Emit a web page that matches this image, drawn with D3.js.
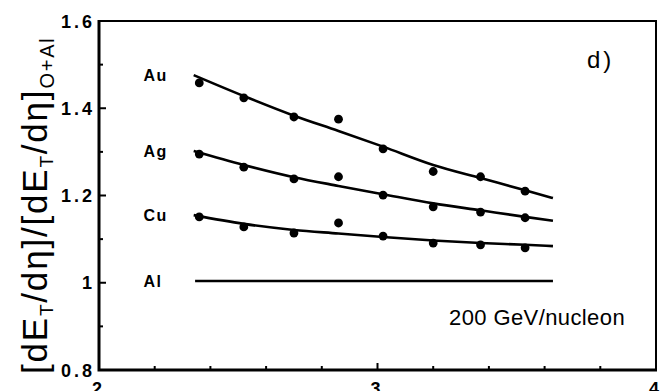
<!DOCTYPE html>
<html>
<head>
<meta charset="utf-8">
<script src="https://cdn.jsdelivr.net/npm/d3@7"></script>
<style>
  html, body { margin: 0; padding: 0; background: #fff; }
  svg { display: block; }
  text { font-family: "Liberation Sans", Arial, sans-serif; fill: #000; }
</style>
</head>
<body>
<svg id="chart" width="661" height="391"></svg>
<script>
// Pseudorapidity bins of the measured points
const eta = [2.36, 2.52, 2.70, 2.86, 3.02, 3.20, 3.37, 3.53];

// Measured ratios relative to O+Al
const auData = [1.458, 1.424, 1.380, 1.375, 1.307, 1.255, 1.243, 1.210];
const agData = [1.295, 1.265, 1.238, 1.243, 1.201, 1.174, 1.162, 1.149];
const cuData = [1.151, 1.128, 1.114, 1.137, 1.107, 1.091, 1.087, 1.080];

// Fitted curves
const fitEta = [2.34, 2.52, 2.70, 2.86, 3.02, 3.20, 3.37, 3.53, 3.63];
const auFit = [1.476, 1.428, 1.383, 1.348, 1.312, 1.270, 1.240, 1.212, 1.194];
const agFit = [1.302, 1.270, 1.242, 1.222, 1.203, 1.182, 1.166, 1.151, 1.142];
const cuFit = [1.155, 1.135, 1.121, 1.113, 1.105, 1.097, 1.091, 1.087, 1.084];
const alEta = [2.345, 3.63];
const alFit = [1.004, 1.004];

const targets = ["Au", "Ag", "Cu", "Al"];
const xTicks = [2, 3, 4];
const yTicks = [0.8, 1, 1.2, 1.4, 1.6];
const xMinorTicks = [2.2, 2.4, 2.6, 2.8, 3.2, 3.4, 3.6, 3.8];
const yMinorTicks = [0.9, 1.1, 1.3, 1.5];

const svg = d3.select("#chart");
const x = d3.scaleLinear().domain([2, 4]).range([99, 656]);
const y = d3.scaleLinear().domain([0.8, 1.6]).range([370, 21]);

// Frame: heavy left/bottom axes, lighter top/right
svg.append("path")
  .attr("d", `M${x(2)},${y(1.6)}H${x(4)}V${y(0.8)}`)
  .attr("fill", "none").attr("stroke", "#000").attr("stroke-width", 2);
svg.append("path")
  .attr("d", `M${x(2)},${y(1.6) - 1}V${y(0.8)}H${x(4) + 1}`)
  .attr("fill", "none").attr("stroke", "#000").attr("stroke-width", 3);

// Inward ticks
const ticks = svg.append("g").attr("stroke", "#000").attr("stroke-width", 2);
ticks.selectAll(".ymaj").data(yTicks.slice(1, -1)).join("line")
  .attr("x1", x(2)).attr("x2", x(2) + 7).attr("y1", d => y(d)).attr("y2", d => y(d));
ticks.selectAll(".ymin").data(yMinorTicks).join("line")
  .attr("x1", x(2)).attr("x2", x(2) + 4).attr("y1", d => y(d)).attr("y2", d => y(d));
ticks.selectAll(".xmaj").data([3]).join("line")
  .attr("x1", d => x(d)).attr("x2", d => x(d)).attr("y1", y(0.8)).attr("y2", y(0.8) - 7);
ticks.selectAll(".xmin").data(xMinorTicks).join("line")
  .attr("x1", d => x(d)).attr("x2", d => x(d)).attr("y1", y(0.8)).attr("y2", y(0.8) - 4);

// Tick labels
svg.append("g").selectAll("text").data(yTicks).join("text")
  .attr("x", x(2) - 4).attr("y", d => y(d) + 6.5)
  .attr("text-anchor", "end")
  .style("font-size", "18px").style("font-weight", "bold").style("letter-spacing", "3px")
  .text(d => d === 1 ? "1" : d3.format(".1f")(d));

svg.append("g").selectAll("text").data(xTicks).join("text")
  .attr("x", d => x(d) - 2).attr("y", 395)
  .attr("text-anchor", "middle")
  .style("font-size", "18px").style("font-weight", "bold")
  .text(d => d);

// Fit curves
const line = d3.line().x(d => x(d[0])).y(d => y(d[1])).curve(d3.curveMonotoneX);
const curves = [
  [fitEta, auFit], [fitEta, agFit], [fitEta, cuFit], [alEta, alFit]
];
svg.append("g").selectAll("path").data(curves).join("path")
  .attr("d", c => line(d3.zip(c[0], c[1])))
  .attr("fill", "none").attr("stroke", "#000").attr("stroke-width", 2.6);

// Data points
const series = [auData, agData, cuData];
series.forEach(s => {
  svg.append("g").selectAll("circle").data(d3.zip(eta, s)).join("circle")
    .attr("cx", d => x(d[0])).attr("cy", d => y(d[1])).attr("r", 4.4).attr("fill", "#000");
});

// Target labels next to curve starts
const labelY = [auFit[0], agFit[0], cuFit[0], alFit[0]];
svg.append("g").selectAll("text").data(targets).join("text")
  .attr("x", x(2.16)).attr("y", (d, i) => y(labelY[i]) + 6)
  .style("font-size", "16px").style("font-weight", "bold").style("letter-spacing", "1.5px")
  .text(d => d);

// Panel tag and beam energy
svg.append("text").attr("x", 587).attr("y", 68)
  .style("font-size", "24px").style("letter-spacing", "3px").text("d)");
svg.append("text").attr("x", 449).attr("y", 325)
  .style("font-size", "22px").style("letter-spacing", "0.4px").text("200 GeV/nucleon");

// Y-axis title
const title = svg.append("text")
  .attr("transform", "translate(47,374) rotate(-90)")
  .style("font-size", "35px").style("letter-spacing", "1.8px");
title.append("tspan").text("[dE");
title.append("tspan").attr("dy", 6).style("font-size", "19px").text("T");
title.append("tspan").attr("dy", -6).text("/d\u03b7]/[dE");
title.append("tspan").attr("dy", 6).style("font-size", "19px").text("T");
title.append("tspan").attr("dy", -6).text("/d\u03b7]");
title.append("tspan").attr("dy", 7).style("font-size", "20px").text("O+Al");
</script>
</body>
</html>
